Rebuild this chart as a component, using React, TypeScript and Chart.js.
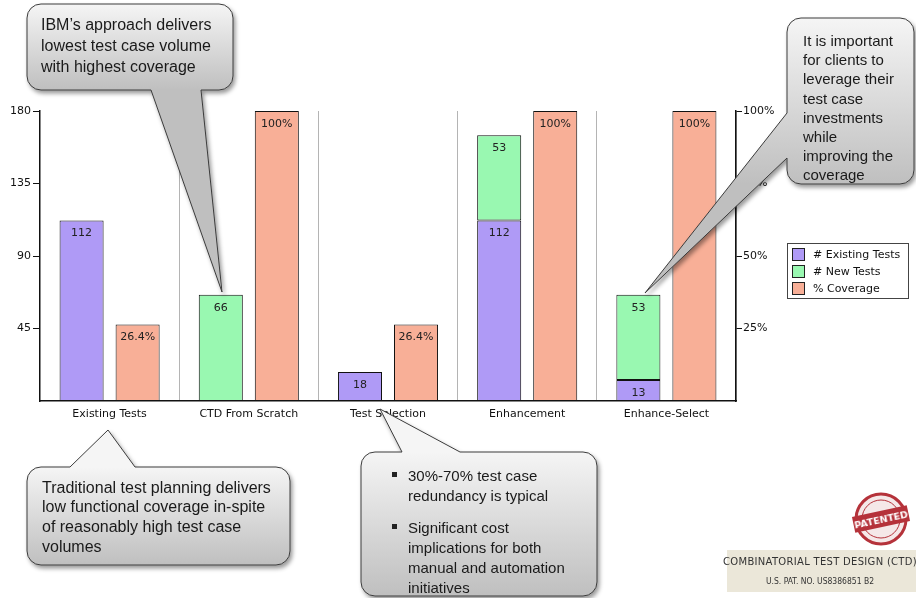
import React, { useEffect, useRef } from "react";
import { Chart, registerables } from "chart.js";

Chart.register(...registerables);

const categories = ["Existing Tests", "CTD From Scratch", "Test Selection", "Enhancement", "Enhance-Select"];
const existingTests: (number | null)[] = [112, null, 18, 112, 13];
const newTests: (number | null)[] = [null, 66, null, 53, 53];
const coverage: number[] = [26.4, 100, 26.4, 100, 100];
const leftTicks = [45, 90, 135, 180];
const rightTicks = [25, 50, 75, 100];
const seriesNames = ["# Existing Tests", "# New Tests", "% Coverage"];
const seriesColors = ["#af9af6", "#99f8b1", "#f8af97"];

const calloutTopLeft = ["IBM\u2019s approach delivers", "lowest test case volume", "with highest coverage"];
const calloutRight = ["It is important", "for clients to", "leverage their", "test case", "investments", "while", "improving the", "coverage"];
const calloutBottomLeft = ["Traditional test planning delivers", "low functional coverage in-spite", "of reasonably high test case", "volumes"];
const calloutBottomMid = [["30%-70% test case", "redundancy is typical"], ["Significant cost", "implications for both", "manual and automation", "initiatives"]];

const FONT = "DejaVu Sans";

const labelPlugin = {
  id: "barLabels",
  afterDatasetsDraw(chart: any) {
    const ctx = chart.ctx;
    ctx.save();
    ctx.font = `11px "${FONT}"`;
    ctx.fillStyle = "#222";
    ctx.textAlign = "center";
    ctx.textBaseline = "middle";
    chart.data.datasets.forEach((ds: any, i: number) => {
      const meta = chart.getDatasetMeta(i);
      meta.data.forEach((bar: any, j: number) => {
        const v = ds.data[j];
        if (v == null || v === 0) return;
        const t = i === 2 ? `${v}%` : String(v);
        ctx.fillText(t, bar.x, bar.y + 13);
      });
    });
    ctx.restore();
  },
};

const legendPlugin = {
  id: "boxLegend",
  afterDraw(chart: any) {
    const ctx = chart.ctx;
    const a = chart.chartArea;
    const x = a.right + 51;
    const y = a.top + 132;
    ctx.save();
    ctx.fillStyle = "#fff";
    ctx.fillRect(x, y, 121, 55);
    ctx.strokeStyle = "#444";
    ctx.lineWidth = 1;
    ctx.strokeRect(x + 0.5, y + 0.5, 121, 55);
    ctx.font = `11px "${FONT}"`;
    ctx.textBaseline = "middle";
    seriesNames.forEach((n, i) => {
      const cy = y + 11 + i * 17;
      ctx.fillStyle = seriesColors[i];
      ctx.fillRect(x + 5, cy - 6, 12, 12);
      ctx.strokeStyle = "#222";
      ctx.strokeRect(x + 5.5, cy - 5.5, 12, 12);
      ctx.fillStyle = "#111";
      ctx.fillText(n, x + 26, cy + 1);
    });
    ctx.restore();
  },
};

function calloutPath(x: number, y: number, w: number, h: number, r: number, side: string, b1: number, b2: number, tx: number, ty: number) {
  let d = `M ${x + r} ${y}`;
  if (side === "top") d += ` L ${b1} ${y} L ${tx} ${ty} L ${b2} ${y}`;
  d += ` L ${x + w - r} ${y} A ${r} ${r} 0 0 1 ${x + w} ${y + r}`;
  d += ` L ${x + w} ${y + h - r} A ${r} ${r} 0 0 1 ${x + w - r} ${y + h}`;
  if (side === "bottom") d += ` L ${b2} ${y + h} L ${tx} ${ty} L ${b1} ${y + h}`;
  d += ` L ${x + r} ${y + h} A ${r} ${r} 0 0 1 ${x} ${y + h - r}`;
  if (side === "left") d += ` L ${x} ${b2} L ${tx} ${ty} L ${x} ${b1}`;
  d += ` L ${x} ${y + r} A ${r} ${r} 0 0 1 ${x + r} ${y} Z`;
  return d;
}

function Callout(props: { id: string; x: number; y: number; w: number; h: number; side: string; b1: number; b2: number; tx: number; ty: number }) {
  const { id, x, y, w, h, side, b1, b2, tx, ty } = props;
  return (
    <g filter="url(#shadow)">
      <defs>
        <linearGradient id={id} gradientUnits="userSpaceOnUse" x1={0} y1={y} x2={0} y2={y + h}>
          <stop offset="0" stopColor="#f5f5f5" />
          <stop offset="1" stopColor="#bfbfbf" />
        </linearGradient>
      </defs>
      <path d={calloutPath(x, y, w, h, 14, side, b1, b2, tx, ty)} fill={`url(#${id})`} stroke="#3c3c3c" strokeWidth={1} />
    </g>
  );
}

export default function App() {
  const ref = useRef<HTMLCanvasElement>(null);
  useEffect(() => {
    const chart = new Chart(ref.current!, {
      type: "bar",
      data: {
        labels: categories,
        datasets: [
          { label: seriesNames[0], data: existingTests, backgroundColor: seriesColors[0], borderColor: "#111", borderWidth: 1, borderSkipped: false, stack: "tests", yAxisID: "y" },
          { label: seriesNames[1], data: newTests, backgroundColor: seriesColors[1], borderColor: "#111", borderWidth: 1, borderSkipped: false, stack: "tests", yAxisID: "y" },
          { label: seriesNames[2], data: coverage, backgroundColor: seriesColors[2], borderColor: "#111", borderWidth: 1, borderSkipped: false, stack: "cov", yAxisID: "y1" },
        ],
      } as any,
      options: {
        responsive: false,
        animation: false,
        categoryPercentage: 0.805,
        barPercentage: 0.786,
        layout: { padding: { left: 0, right: 130, top: 111, bottom: 167 } },
        plugins: { legend: { display: false }, tooltip: { enabled: false } },
        scales: {
          x: {
            grid: {
              offset: true,
              drawTicks: false,
              color: (c: any) => (c.index === 0 || c.index === categories.length ? "rgba(0,0,0,0)" : "#b4b4b4"),
            },
            border: { color: "#111", width: 1.5 },
            ticks: { color: "#111", font: { family: FONT, size: 11 }, padding: 7, maxRotation: 0 },
            afterFit: (s: any) => { s.height = 30; },
          },
          y: {
            position: "left",
            stacked: true,
            min: 0,
            max: 180,
            afterBuildTicks: (s: any) => { s.ticks = leftTicks.map((v) => ({ value: v })); },
            grid: { drawOnChartArea: false, tickLength: 7, color: "#111" },
            border: { color: "#111", width: 1.5 },
            ticks: { color: "#111", font: { family: FONT, size: 11 }, padding: 2 },
            afterFit: (s: any) => { s.width = 40; },
          },
          y1: {
            position: "right",
            min: 0,
            max: 100,
            afterBuildTicks: (s: any) => { s.ticks = rightTicks.map((v) => ({ value: v })); },
            grid: { drawOnChartArea: false, tickLength: 6, color: "#111" },
            border: { color: "#111", width: 1.5 },
            ticks: { color: "#111", font: { family: FONT, size: 11 }, padding: 1, callback: (v: any) => `${v}%` },
            afterFit: (s: any) => { s.width = 50; },
          },
        },
      } as any,
      plugins: [labelPlugin, legendPlugin],
    });
    return () => chart.destroy();
  }, []);

  const txt = { fontFamily: '"Liberation Sans", Arial, sans-serif', fontSize: 15, fill: "#1a1a1a" } as any;
  const txtBig = { ...txt, fontSize: 16 };

  return (
    <div style={{ position: "absolute", left: 0, top: 0, width: 916, height: 598, background: "#fff", overflow: "hidden" }}>
      <canvas ref={ref} width={916} height={598} style={{ position: "absolute", left: 0, top: 0 }} />
      <svg width={916} height={598} style={{ position: "absolute", left: 0, top: 0, pointerEvents: "none" }}>
        <defs>
          <filter id="shadow" x="-20%" y="-20%" width="140%" height="140%">
            <feDropShadow dx="2" dy="3" stdDeviation="2" floodColor="#000" floodOpacity="0.4" />
          </filter>
        </defs>
        <Callout id="g1" x={27} y={4} w={206} h={86} side="bottom" b1={151} b2={201} tx={222} ty={292} />
        {calloutTopLeft.map((t, i) => (
          <text key={t} x={41} y={24 + i * 21} dominantBaseline="central" style={txtBig}>{t}</text>
        ))}
        <Callout id="g2" x={787} y={18} w={127} h={166} side="left" b1={113} b2={158} tx={645} ty={293} />
        {calloutRight.map((t, i) => (
          <text key={t} x={803} y={40.5 + i * 19.2} dominantBaseline="central" style={txt}>{t}</text>
        ))}
        <Callout id="g3" x={27} y={467} w={263} h={98} side="top" b1={70} b2={135} tx={108} ty={430} />
        {calloutBottomLeft.map((t, i) => (
          <text key={t} x={42} y={487 + i * 19.7} dominantBaseline="central" style={txtBig}>{t}</text>
        ))}
        <Callout id="g4" x={361} y={452} w={236} h={144} side="top" b1={402} b2={460} tx={380} ty={409} />
        {calloutBottomMid.map((group, gi) => {
          const startY = gi === 0 ? 475 : 527;
          return (
            <g key={gi}>
              <rect x={392} y={startY - 3} width={5} height={5} fill="#222" />
              {group.map((t, i) => (
                <text key={t} x={408} y={startY + i * 20} dominantBaseline="central" style={txt}>{t}</text>
              ))}
            </g>
          );
        })}
        <rect x={727} y={550} width={189} height={42} fill="#ebe7d9" />
        <text x={820} y={561} textAnchor="middle" dominantBaseline="central" style={{ fontFamily: '"DejaVu Sans"', fontSize: 10, fill: "#333", letterSpacing: 0.3 }}>COMBINATORIAL TEST DESIGN (CTD)</text>
        <text x={820} y={581} textAnchor="middle" dominantBaseline="central" style={{ fontFamily: '"DejaVu Sans Condensed"', fontSize: 8.5, fill: "#333" }}>U.S. PAT. NO. US8386851 B2</text>
        <g transform="translate(881 519)">
          <circle r={25} fill="#f5e8e8" stroke="#b5323a" strokeWidth={3} />
          <circle r={19} fill="none" stroke="#b5323a" strokeWidth={1} />
          <g transform="rotate(-12)">
            <rect x={-28} y={-8} width={56} height={16} fill="#b5323a" />
            <text x={0} y={0.5} textAnchor="middle" dominantBaseline="central" style={{ fontFamily: '"DejaVu Sans"', fontWeight: "bold", fontSize: 9.5, fill: "#fff" }}>PATENTED</text>
          </g>
        </g>
      </svg>
    </div>
  );
}
